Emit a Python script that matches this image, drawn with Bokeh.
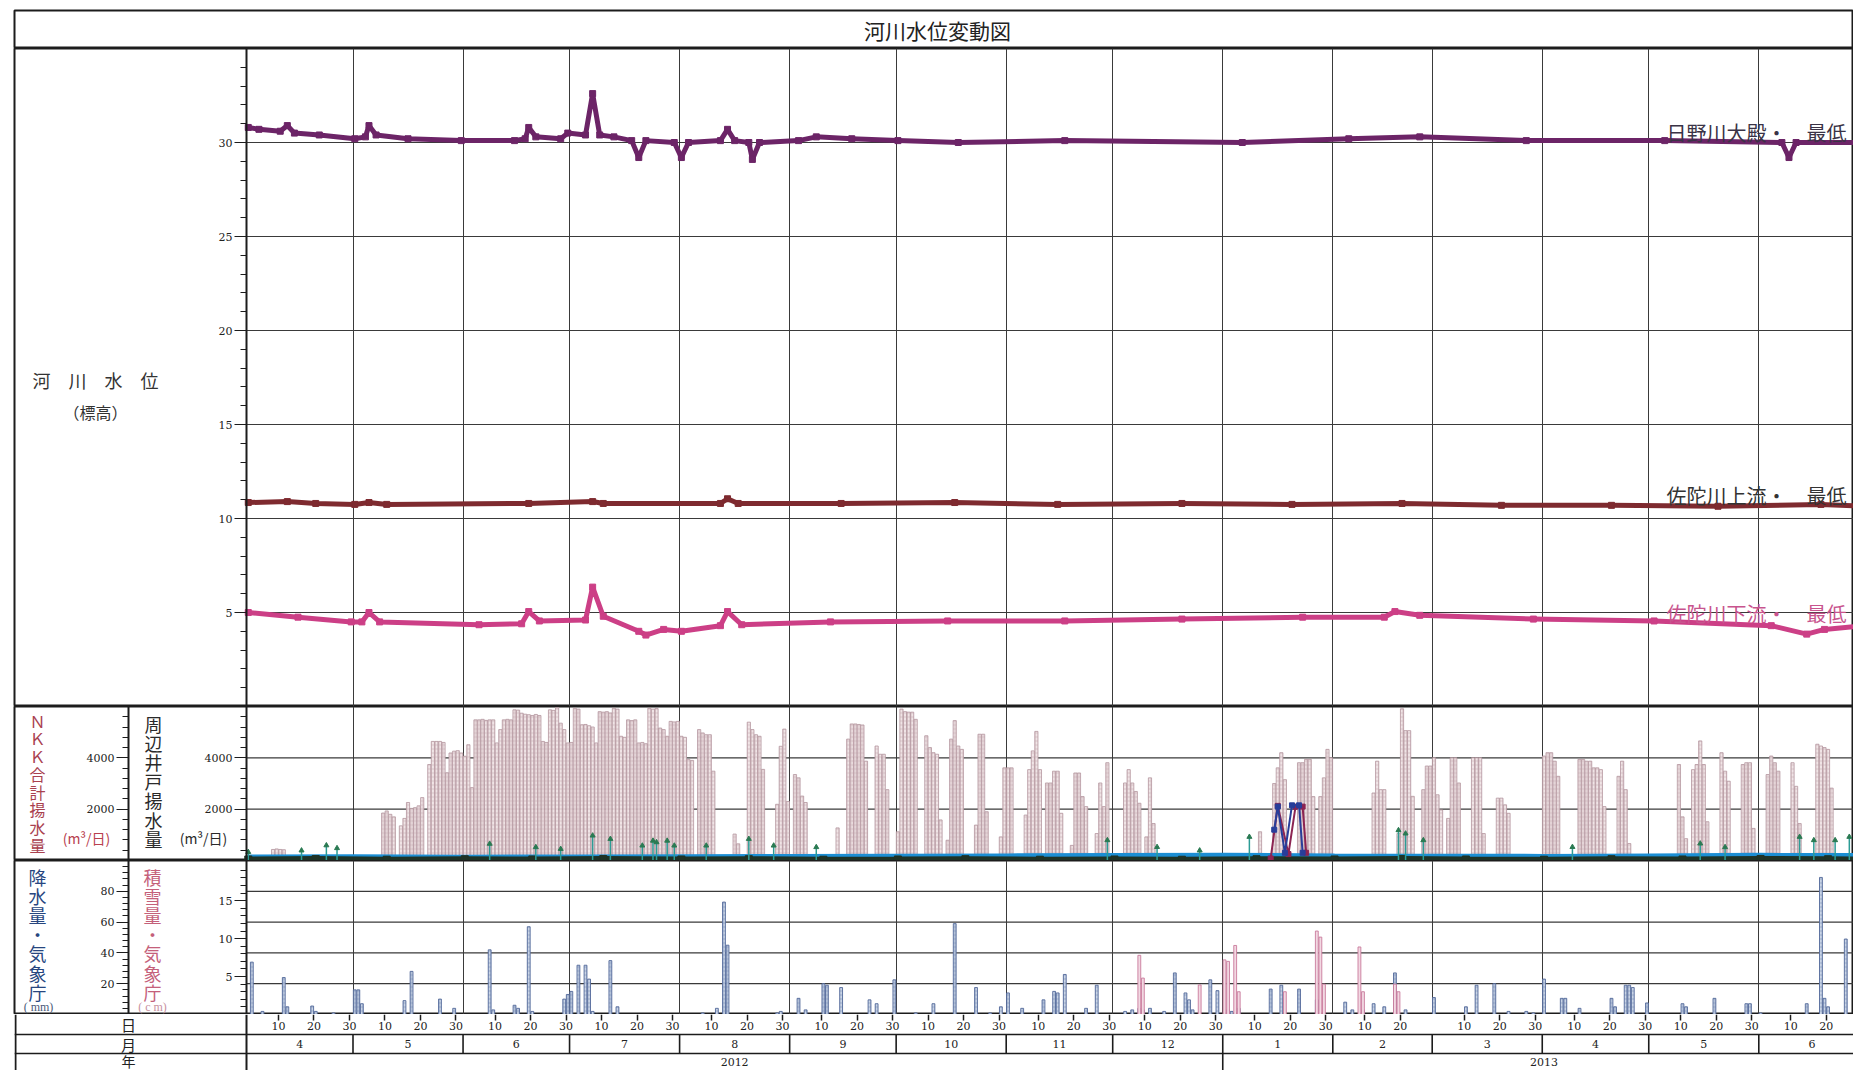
import calendar
import datetime as dt

from bokeh.core.properties import value
from bokeh.embed import file_html
from bokeh.layouts import column
from bokeh.models import FixedTicker, Grid, LinearAxis, Range1d
from bokeh.plotting import figure
from bokeh.resources import INLINE

START = dt.date(2012, 4, 1)

# ---------------------------------------------------------------- time axis
month_starts = ["2012-04-01", "2012-05-01", "2012-06-01", "2012-07-01", "2012-08-01",
                "2012-09-01", "2012-10-01", "2012-11-01", "2012-12-01", "2013-01-01",
                "2013-02-01", "2013-03-01", "2013-04-01", "2013-05-01", "2013-06-01",
                "2013-07-01"]
month_labels = ["4", "5", "6", "7", "8", "9", "10", "11", "12", "1", "2", "3", "4", "5", "6"]
year_starts = ["2012-04-01", "2013-01-01", "2013-07-01"]
year_labels = ["2012", "2013"]
day_marks = [10, 20, 30]

# ---------------------------------------------------------------- river levels (m)
hino_dates = ["2012-04-01", "2012-04-04", "2012-04-10", "2012-04-12", "2012-04-14", "2012-04-21",
              "2012-05-01", "2012-05-04", "2012-05-05", "2012-05-07", "2012-05-16", "2012-05-31",
              "2012-06-15", "2012-06-18", "2012-06-19", "2012-06-21", "2012-06-28", "2012-06-30",
              "2012-07-05", "2012-07-07", "2012-07-09", "2012-07-13", "2012-07-18", "2012-07-20",
              "2012-07-22", "2012-07-30", "2012-08-01", "2012-08-03", "2012-08-12", "2012-08-14",
              "2012-08-16", "2012-08-20", "2012-08-21", "2012-08-23", "2012-09-03", "2012-09-08",
              "2012-09-18", "2012-10-01", "2012-10-18", "2012-11-17", "2013-01-06", "2013-02-05",
              "2013-02-25", "2013-03-27", "2013-05-05", "2013-06-07", "2013-06-09", "2013-06-11",
              "2013-06-30"]
hino_levels = [30.8, 30.7, 30.6, 30.9, 30.5, 30.4,
               30.2, 30.3, 30.9, 30.4, 30.2, 30.1,
               30.1, 30.2, 30.8, 30.3, 30.2, 30.5,
               30.4, 32.6, 30.4, 30.3, 30.1, 29.2,
               30.1, 30.0, 29.2, 30.0, 30.1, 30.7,
               30.1, 30.0, 29.1, 30.0, 30.1, 30.3,
               30.2, 30.1, 30.0, 30.1, 30.0, 30.2,
               30.3, 30.1, 30.1, 30.0, 29.2, 30.0,
               30.0]

sada_up_dates = ["2012-04-01", "2012-04-12", "2012-04-20", "2012-05-01", "2012-05-05", "2012-05-10",
                 "2012-06-19", "2012-07-07", "2012-07-10", "2012-08-12", "2012-08-14", "2012-08-17",
                 "2012-09-15", "2012-10-17", "2012-11-15", "2012-12-20", "2013-01-20", "2013-02-20",
                 "2013-03-20", "2013-04-20", "2013-05-20", "2013-06-18", "2013-06-30"]
sada_up_levels = [10.85, 10.9, 10.8, 10.75, 10.85, 10.75,
                  10.8, 10.9, 10.8, 10.8, 11.05, 10.8,
                  10.8, 10.85, 10.75, 10.8, 10.75, 10.8,
                  10.7, 10.7, 10.65, 10.75, 10.65]

sada_dn_dates = ["2012-04-01", "2012-04-15", "2012-04-30", "2012-05-03", "2012-05-05", "2012-05-08",
                 "2012-06-05", "2012-06-17", "2012-06-19", "2012-06-22", "2012-07-05", "2012-07-07",
                 "2012-07-10", "2012-07-20", "2012-07-22", "2012-07-27", "2012-08-01", "2012-08-12",
                 "2012-08-14", "2012-08-18", "2012-09-12", "2012-10-15", "2012-11-17", "2012-12-20",
                 "2013-01-23", "2013-02-15", "2013-02-18", "2013-02-25", "2013-03-29", "2013-05-02",
                 "2013-06-04", "2013-06-14", "2013-06-19", "2013-06-30"]
sada_dn_levels = [5.0, 4.75, 4.5, 4.5, 5.0, 4.5,
                  4.35, 4.4, 5.05, 4.55, 4.6, 6.35,
                  4.8, 4.0, 3.8, 4.1, 4.0, 4.3,
                  5.05, 4.35, 4.5, 4.55, 4.55, 4.65,
                  4.75, 4.75, 5.05, 4.85, 4.65, 4.55,
                  4.3, 3.85, 4.1, 4.3]

river_names = ["日野川大殿・　最低", "佐陀川上流・　最低", "佐陀川下流・　最低"]

# ---------------------------------------------------------------- pumping (m3/day)
# NKK total pumping: (first day of a run, daily values)
nkk_runs = [
    ("2012-04-08", [430, 450, 430, 420]),
    ("2012-05-09", [1850, 1930, 1800, 1700]),
    ("2012-05-14", [1350, 1640, 2260, 2030, 2060, 2130, 2450]),
    ("2012-05-22", [3740, 4640, 4640, 4640, 4600, 3420, 4190, 4260, 4280, 4190, 4060, 4510, 2840,
                    5480, 5480, 5500, 5460, 5480, 5480, 4580, 5100, 5480, 5500, 5480, 5870, 5860,
                    5740, 5700, 5680, 5650, 5690, 5650, 4640, 4600, 5870, 5850, 5950, 5350, 5100,
                    4580, 4600, 5930, 5900, 5290, 5300, 5250, 5200, 4580, 5800, 5780, 5800, 5750,
                    5930, 5900, 4840, 4800, 5480, 5450, 5480, 4580, 4600, 4550, 5930, 5900, 5920,
                    5160, 5100, 4840, 5420, 5400, 5420, 4840, 4800, 3930, 3900]),
    ("2012-08-06", [5100, 4970, 4900, 4900, 3480]),
    ("2012-08-16", [1030, 650]),
    ("2012-08-20", [5390, 5100, 4900, 4840, 3550]),
    ("2012-08-28", [2190, 4450, 5120, 2300]),
    ("2012-09-02", [3350, 3220, 2510, 2260]),
    ("2012-09-14", [1270]),
    ("2012-09-17", [4730, 5320, 5320, 5300, 5280, 3870]),
    ("2012-09-25", [4460, 4140, 4140, 2760]),
    ("2012-10-01", [1120, 5900, 5800, 5780, 5780, 5500]),
    ("2012-10-09", [4860, 4400, 4200, 4140, 1580]),
    ("2012-10-15", [790, 4730, 5450, 4460, 4330]),
    ("2012-10-23", [1380, 4920, 4920, 1900]),
    ("2012-10-30", [920, 3610, 3610, 3610]),
    ("2012-11-06", [1770, 3540, 4270, 5030, 3540]),
    ("2012-11-12", [3020, 3020, 3480, 3480, 1840]),
    ("2012-11-19", [590, 3410, 3410, 2490, 2100]),
    ("2012-11-26", [1050, 3020, 2100, 3810]),
    ("2012-12-04", [3020, 3540, 3020, 2690, 2230]),
    ("2012-12-10", [920, 3220, 1440]),
    ("2013-01-11", [1120]),
    ("2013-01-15", [3000, 3610, 4200, 3150]),
    ("2013-01-22", [3810, 3810, 3940, 3940, 2490]),
    ("2013-01-28", [2490, 3220, 4330, 4000]),
    ("2013-02-12", [2630, 3870, 2760, 2760]),
    ("2013-02-19", [1050, 5910, 5060, 5060, 2500]),
    ("2013-02-26", [2760, 3680, 3680, 4000, 2560, 1970]),
    ("2013-03-05", [1640, 4000, 4000, 3020]),
    ("2013-03-12", [4000, 4000, 4000, 1050]),
    ("2013-03-19", [2430, 2430, 2170, 1840]),
    ("2013-04-01", [4070, 4200, 4200, 3870, 3280]),
    ("2013-04-11", [3940, 3940, 3870, 3870, 3610, 3610, 3540, 2100]),
    ("2013-04-22", [3280, 3870, 2760, 660]),
    ("2013-05-09", [3740, 1700, 850]),
    ("2013-05-13", [3540, 3740, 4660, 3740, 1510]),
    ("2013-05-21", [4200, 3480, 3090]),
    ("2013-05-27", [3740, 3810, 3810, 1250]),
    ("2013-06-03", [3350, 4070, 3810, 3480]),
    ("2013-06-10", [3810, 2890, 1440]),
    ("2013-06-17", [4530, 4460, 4400, 4330, 2820]),
]

# surrounding wells
well_a_dates = ["2012-04-01", "2012-05-01", "2012-06-01", "2012-07-01", "2012-08-01", "2012-09-01",
                "2012-10-01", "2012-11-01", "2012-12-01", "2013-01-01", "2013-02-01", "2013-03-01",
                "2013-04-01", "2013-05-01", "2013-06-01", "2013-06-30"]
well_a_values = [140, 150, 130, 140, 150, 160, 170, 180, 190, 200, 180, 170, 160, 180, 200, 190]
well_b_dates = ["2012-04-01", "2012-04-20", "2012-05-10", "2012-06-01", "2012-06-20", "2012-07-10",
                "2012-08-01", "2012-08-20", "2012-09-10", "2012-10-01", "2012-10-20", "2012-11-10",
                "2012-12-01", "2012-12-20", "2013-01-10", "2013-02-01", "2013-02-20", "2013-03-10",
                "2013-04-01", "2013-04-20", "2013-05-10", "2013-06-01", "2013-06-20", "2013-06-30"]
well_b_values = [40, 60, 30, 50, 40, 60, 40, 50, 30, 40, 50, 30,
                 40, 30, 50, 40, 60, 40, 30, 50, 40, 60, 50, 40]
well_c_dates = ["2012-04-01", "2012-04-16", "2012-04-23", "2012-04-26", "2012-06-08", "2012-06-21",
                "2012-06-28", "2012-07-07", "2012-07-12", "2012-07-21", "2012-07-24", "2012-07-25",
                "2012-07-28", "2012-07-30", "2012-08-08", "2012-08-20", "2012-08-27", "2012-09-08",
                "2012-11-29", "2012-12-13", "2012-12-25", "2013-01-08", "2013-02-19", "2013-02-21",
                "2013-02-26", "2013-04-09", "2013-05-15", "2013-05-22", "2013-06-12", "2013-06-16",
                "2013-06-22", "2013-06-26"]
well_c_values = [330, 390, 590, 480, 650, 520, 450, 970, 840, 580, 770, 710,
                 770, 580, 580, 840, 580, 520, 790, 525, 390, 920, 1180, 1050,
                 790, 525, 660, 520, 920, 790, 790, 920]
well_d_dates = ["2013-01-14", "2013-01-16", "2013-01-19", "2013-01-21", "2013-01-23", "2013-01-24"]
well_d_values = [80, 2130, 250, 2100, 2100, 300]
well_e_dates = ["2013-01-15", "2013-01-16", "2013-01-18", "2013-01-20", "2013-01-22", "2013-01-23"]
well_e_values = [1200, 2100, 300, 2150, 2150, 300]

# ---------------------------------------------------------------- rain (mm) / snow depth (cm)
rain_dates = ["2012-04-02", "2012-04-05", "2012-04-11", "2012-04-12", "2012-04-19", "2012-04-20",
              "2012-04-25", "2012-05-01", "2012-05-02", "2012-05-03", "2012-05-15", "2012-05-17",
              "2012-05-25", "2012-05-29", "2012-06-08", "2012-06-09", "2012-06-15", "2012-06-16",
              "2012-06-19", "2012-06-20", "2012-06-29", "2012-06-30", "2012-07-01", "2012-07-03",
              "2012-07-05", "2012-07-06", "2012-07-07", "2012-07-12", "2012-07-14", "2012-08-07",
              "2012-08-11", "2012-08-13", "2012-08-14", "2012-08-28", "2012-08-29", "2012-09-03",
              "2012-09-05", "2012-09-10", "2012-09-11", "2012-09-15", "2012-09-23", "2012-09-25",
              "2012-09-30", "2012-10-06", "2012-10-11", "2012-10-17", "2012-10-23", "2012-10-27",
              "2012-10-30", "2012-11-01", "2012-11-05", "2012-11-11", "2012-11-14", "2012-11-15",
              "2012-11-17", "2012-11-23", "2012-11-26", "2012-12-04", "2012-12-06", "2012-12-08",
              "2012-12-09", "2012-12-11", "2012-12-15", "2012-12-18", "2012-12-21", "2012-12-22",
              "2012-12-23", "2012-12-28", "2012-12-30", "2013-01-02", "2013-01-03", "2013-01-05",
              "2013-01-14", "2013-01-17", "2013-01-22", "2013-01-27", "2013-02-04", "2013-02-06",
              "2013-02-09", "2013-02-12", "2013-02-15", "2013-02-18", "2013-02-21", "2013-03-01",
              "2013-03-10", "2013-03-13", "2013-03-18", "2013-03-22", "2013-03-27", "2013-03-29",
              "2013-04-01", "2013-04-06", "2013-04-07", "2013-04-11", "2013-04-20", "2013-04-21",
              "2013-04-24", "2013-04-25", "2013-04-26", "2013-04-30", "2013-05-10", "2013-05-11",
              "2013-05-19", "2013-05-28", "2013-05-29", "2013-06-01", "2013-06-14", "2013-06-18",
              "2013-06-19", "2013-06-20", "2013-06-25"]
rain_mm = [34, 2, 24, 5, 5.5, 2,
           1, 16, 16, 7, 9, 28,
           10, 4, 42, 3, 6, 4,
           57, 2, 10, 13, 15, 32,
           32, 23, 2, 35, 5, 1,
           4, 73, 45, 1, 2, 10.5,
           3, 20, 19, 17.5, 9.5, 7,
           22.5, 1, 7, 59, 17.5, 1,
           5, 14, 4, 9.5, 15, 14,
           26, 4, 19, 2, 3, 4,
           3, 4, 2, 27, 14, 9.5,
           3, 22.5, 15.5, 3, 2, 4,
           16.5, 19, 16.5, 9.5, 8, 3,
           3, 7, 5, 27, 3, 11,
           5, 19, 20, 2, 2, 1,
           23, 10.5, 10.5, 4, 10.5, 5,
           19, 19, 17.5, 7.5, 7, 5,
           10.5, 7, 7, 1, 7, 89,
           10.5, 5, 49]

snow_dates = ["2012-12-08", "2012-12-09", "2012-12-25", "2013-01-01", "2013-01-02", "2013-01-04",
              "2013-01-05", "2013-01-18", "2013-01-27", "2013-01-28", "2013-01-29", "2013-02-08",
              "2013-02-09", "2013-02-18", "2013-02-19"]
snow_cm = [7.8, 4.8, 3.9, 7.2, 7.0, 9.1,
           3.0, 3.0, 11.0, 10.2, 4.0, 8.9,
           3.0, 4.0, 3.0]


# ---------------------------------------------------------------- helpers
def dn(s):
    return (dt.date.fromisoformat(s) - START).days


W = 1853
PX_PER_DAY = 3.55
FRAME_LEFT = 14
PLOT_LEFT = 246
OUTER_AXIS = 128
INK = "#1c1c1c"
GRID = "#3a3a3a"
JP = value("Noto Sans CJK JP")
NUM_FONT = "DejaVu Serif"


def xd(px):
    """Horizontal page position (px) -> day coordinate."""
    return (px - PLOT_LEFT) / PX_PER_DAY


X_END = xd(W)
xr = Range1d(xd(FRAME_LEFT), X_END)

month_grid = [dn(s) for s in month_starts[1:-1]]
day_ticks, day_text = [], {}
for s in month_starts[:-1]:
    m0 = dt.date.fromisoformat(s)
    last = calendar.monthrange(m0.year, m0.month)[1]
    for dd in day_marks:
        if dd <= last:
            t = (dt.date(m0.year, m0.month, dd) - START).days
            day_ticks.append(t)
            day_text[t] = str(dd)


def make_fig(height, y_range, top=0, outline=True):
    p = figure(width=W, height=height, x_range=xr, y_range=y_range,
               x_axis_type=None, y_axis_type=None, tools="",
               output_backend="svg", toolbar_location=None,
               min_border_left=FRAME_LEFT, min_border_right=0,
               min_border_top=top, min_border_bottom=0)
    p.outline_line_color = INK if outline else None
    p.outline_line_width = 2
    p.background_fill_color = "white"
    p.border_fill_color = "white"
    return p


def add_month_grid(p):
    p.add_layout(Grid(dimension=0, ticker=FixedTicker(ticks=month_grid),
                      grid_line_color=GRID, grid_line_width=1))


def add_hlines(p, levels, range_name="default"):
    p.segment(x0=[0] * len(levels), y0=levels, x1=[X_END] * len(levels), y1=levels,
              line_color=GRID, line_width=1.2, y_range_name=range_name)


def add_yaxis(p, at_px, ticks, minor, bounds, range_name="default"):
    ax = LinearAxis(fixed_location=xd(at_px), bounds=bounds, y_range_name=range_name,
                    ticker=FixedTicker(ticks=ticks, minor_ticks=minor))
    ax.axis_line_color = INK
    ax.axis_line_width = 2
    ax.major_tick_line_color = INK
    ax.minor_tick_line_color = INK
    ax.major_tick_out = 12
    ax.major_tick_in = 0
    ax.minor_tick_out = 6
    ax.minor_tick_in = 0
    ax.major_label_standoff = 2
    ax.major_label_text_font = NUM_FONT
    ax.major_label_text_font_size = "11px"
    ax.major_label_text_color = "#222222"
    p.add_layout(ax, "left")


def vtext(p, px_x, y, s, color, size="18px", range_name="default"):
    # one character per line; CJK font metrics are tall, so the line height is tightened
    p.text(x=[xd(px_x)], y=[y], text=["\n".join(s)], text_font=JP, text_font_size=size,
           text_color=color, text_align="center", text_baseline="top",
           text_line_height=0.74, y_range_name=range_name)


def htext(p, px_x, y, s, color, size="15px", font=JP, range_name="default"):
    p.text(x=[xd(px_x)], y=[y], text=[s], text_font=font, text_font_size=size,
           text_color=color, text_align="center", text_baseline="middle",
           y_range_name=range_name)


# ---------------------------------------------------------------- title row
f0 = make_fig(48, Range1d(0, 1), top=10)
f0.text(x=[xd(937)], y=[0.5], text=["河川水位変動図"], text_font=JP, text_font_size="21px",
        text_color="#222222", text_align="center", text_baseline="middle")

# ---------------------------------------------------------------- river levels
H1 = 658
f1 = make_fig(H1, Range1d(0, 35))
add_month_grid(f1)
add_hlines(f1, [5, 10, 15, 20, 25, 30])
add_yaxis(f1, PLOT_LEFT, [5, 10, 15, 20, 25, 30], list(range(1, 35)), (0, 35))


def y1(px):
    return 35 * (706 - px) / H1


htext(f1, 95, y1(379), "河　川　水　位", "#333333", size="18px")
htext(f1, 95, y1(411), "（標高）", "#333333", size="16px")

series = [(hino_dates, hino_levels, "#6c2467"),
          (sada_up_dates, sada_up_levels, "#7e2a2f"),
          (sada_dn_dates, sada_dn_levels, "#cc3f86")]
for dates, levels, color in series:
    xs = [dn(s) + 0.5 for s in dates]
    f1.line(xs, levels, line_color=color, line_width=5, line_join="round")
    f1.scatter(xs, levels, marker="square", size=6, fill_color=color, line_color=color)

label_x = xd(1666)
f1.text(x=[label_x] * 3, y=[y1(132), y1(495), y1(613)], text=river_names, text_font=JP,
        text_font_size="20px", text_color=["#3a3346", "#333333", "#c8548e"],
        text_align="left", text_baseline="middle")

# ---------------------------------------------------------------- pumping
H2 = 154
f2 = make_fig(H2, Range1d(0, 6000))
add_month_grid(f2)
add_hlines(f2, [2000, 4000])
pump_minor = list(range(400, 6000, 400))
add_yaxis(f2, PLOT_LEFT, [2000, 4000], pump_minor, (0, 6000))
add_yaxis(f2, OUTER_AXIS, [2000, 4000], pump_minor, (0, 6000))


def y2(px):
    return 6000 * (860 - px) / H2


vtext(f2, 37, y2(708), "ＮＫＫ合計揚水量", "#a9414f", size="16px")
htext(f2, 86, y2(837), "(m³/日)", "#b8404e", size="14px")
vtext(f2, 153, y2(710), "周辺井戸揚水量", "#2a2a2a")
htext(f2, 203, y2(837), "(m³/日)", "#2a2a2a", size="14px")

nkk_x, nkk_top = [], []
for first, vals in nkk_runs:
    d0 = dn(first)
    for i, v in enumerate(vals):
        nkk_x.append(d0 + i + 0.5)
        nkk_top.append(v)
f2.vbar(x=nkk_x, top=nkk_top, bottom=0, width=0.9, fill_color="#f0e4e6",
        line_color="#b4969e", line_width=0.8,
        hatch_pattern="+", hatch_color="#c9adb4", hatch_scale=4, hatch_weight=0.6)

f2.line([dn(s) + 0.5 for s in well_a_dates], well_a_values, line_color="#1c8fd4", line_width=5)
wb_x = [dn(s) + 0.5 for s in well_b_dates]
f2.line(wb_x, well_b_values, line_color="#1f3326", line_width=6)
f2.scatter(wb_x, well_b_values, marker="square", size=7, color="#1f3326")
wc_x = [dn(s) + 0.5 for s in well_c_dates]
f2.segment(x0=wc_x, y0=[0] * len(wc_x), x1=wc_x, y1=well_c_values,
           line_color="#2c9c96", line_width=1.5)
f2.scatter(wc_x, well_c_values, marker="triangle", size=5, color="#2a7a52")
for dates, vals, color in [(well_d_dates, well_d_values, "#8c2452"),
                           (well_e_dates, well_e_values, "#283e9a")]:
    xs = [dn(s) + 0.5 for s in dates]
    f2.line(xs, vals, line_color=color, line_width=2)
    f2.scatter(xs, vals, marker="square", size=5, color=color)

# ---------------------------------------------------------------- rain / snow
H3 = 154
f3 = make_fig(H3, Range1d(0, 100))
f3.extra_y_ranges = {"snow": Range1d(0, 20.3)}
add_month_grid(f3)
add_hlines(f3, [20, 40, 60, 80])
add_yaxis(f3, OUTER_AXIS, [20, 40, 60, 80], list(range(4, 100, 4)), (0, 100))
add_yaxis(f3, PLOT_LEFT, [5, 10, 15], list(range(1, 20)), (0, 20.3), range_name="snow")


def y3(px):
    return 100 * (1014 - px) / H3


vtext(f3, 37, y3(863), "降水量・気象庁", "#27467f")
htext(f3, 38, y3(1006), "( mm)", "#4a5a7a", size="12px", font=NUM_FONT)
vtext(f3, 152, y3(863), "積雪量・気象庁", "#c4607a")
htext(f3, 152, y3(1006), "( c m)", "#c790a0", size="12px", font=NUM_FONT)

f3.vbar(x=[dn(s) + 0.5 for s in rain_dates], top=rain_mm, bottom=0, width=0.8,
        fill_color="#c9d4e6", line_color="#52699a", line_width=0.9,
        hatch_pattern="+", hatch_color="#8093b8", hatch_scale=4, hatch_weight=0.6)
f3.vbar(x=[dn(s) + 0.5 for s in snow_dates], top=snow_cm, bottom=0, width=0.8,
        fill_color="#f2d8e2", line_color="#c97b9c", line_width=0.9, y_range_name="snow")

# ---------------------------------------------------------------- day / month / year rows
H4 = 56
f4 = make_fig(H4, Range1d(0, H4), outline=False)
ROW_DAY, ROW_MONTH = 36, 17
f4.segment(x0=[xd(FRAME_LEFT)] * 2, y0=[ROW_DAY, ROW_MONTH], x1=[X_END] * 2,
           y1=[ROW_DAY, ROW_MONTH], line_color=INK, line_width=1.6)
f4.segment(x0=[xd(15)], y0=[0], x1=[xd(15)], y1=[H4], line_color=INK, line_width=2)
f4.segment(x0=[0], y0=[0], x1=[0], y1=[H4], line_color=INK, line_width=2)
mb = [dn(s) for s in month_starts[1:]]
f4.segment(x0=mb, y0=[ROW_MONTH] * len(mb), x1=mb, y1=[ROW_DAY] * len(mb),
           line_color=INK, line_width=1.6)
yb = [dn(s) for s in year_starts[1:]]
f4.segment(x0=yb, y0=[0] * len(yb), x1=yb, y1=[ROW_MONTH] * len(yb),
           line_color=INK, line_width=1.6)

mid_month = [(dn(a) + dn(b)) / 2 for a, b in zip(month_starts[:-1], month_starts[1:])]
f4.text(x=mid_month, y=[(ROW_DAY + ROW_MONTH) / 2] * len(mid_month), text=month_labels,
        text_font=value(NUM_FONT), text_font_size="11px", text_color="#222222",
        text_align="center", text_baseline="middle")
mid_year = [(dn(a) + dn(b)) / 2 for a, b in zip(year_starts[:-1], year_starts[1:])]
f4.text(x=mid_year, y=[ROW_MONTH / 2] * len(mid_year), text=year_labels,
        text_font=value(NUM_FONT), text_font_size="11px", text_color="#222222",
        text_align="center", text_baseline="middle")
for txt, yy, sz in [("日", 46, "15px"), ("月", (ROW_DAY + ROW_MONTH) / 2, "15px"),
                    ("年", 10, "14px")]:
    htext(f4, 128, yy, txt, "#222222", size=sz)

day_axis = LinearAxis(fixed_location=H4, ticker=FixedTicker(ticks=day_ticks),
                      major_label_overrides=day_text)
day_axis.axis_line_color = None
day_axis.major_tick_line_color = INK
day_axis.major_tick_line_width = 1.5
day_axis.major_tick_out = 6
day_axis.major_tick_in = 0
day_axis.minor_tick_line_color = None
day_axis.major_label_standoff = 1
day_axis.major_label_text_font = NUM_FONT
day_axis.major_label_text_font_size = "11px"
day_axis.major_label_text_color = "#222222"
f4.add_layout(day_axis, "below")

page = column(f0, f1, f2, f3, f4, spacing=0)
open("out.html", "w").write(file_html(page, INLINE, title="河川水位変動図"))
